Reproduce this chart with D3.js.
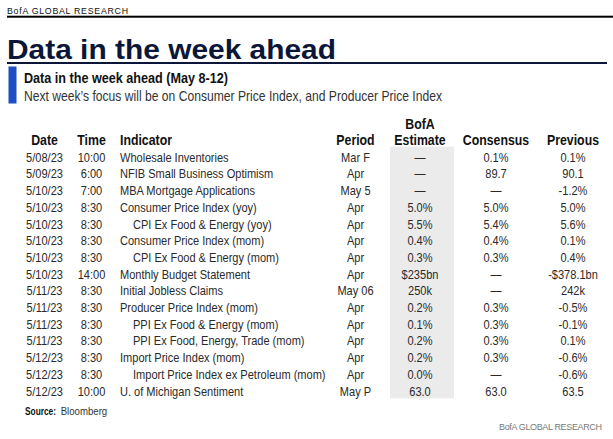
<!DOCTYPE html>
<html><head><meta charset="utf-8">
<script src="https://cdn.jsdelivr.net/npm/d3@7/dist/d3.min.js"></script>
<style>body{margin:0;background:#fff;}svg{display:block;}</style>
</head><body>
<svg id="c" width="613" height="439"></svg>
<script>
const dates = ["5/08/23","5/09/23","5/10/23","5/10/23","5/10/23","5/10/23","5/10/23","5/10/23","5/11/23","5/11/23","5/11/23","5/11/23","5/12/23","5/12/23","5/12/23"];
const times = ["10:00","6:00","7:00","8:30","8:30","8:30","8:30","14:00","8:30","8:30","8:30","8:30","8:30","8:30","10:00"];
const indicators = ["Wholesale Inventories","NFIB Small Business Optimism","MBA Mortgage Applications","Consumer Price Index (yoy)","CPI Ex Food & Energy (yoy)","Consumer Price Index (mom)","CPI Ex Food & Energy (mom)","Monthly Budget Statement","Initial  Jobless Claims","Producer Price Index (mom)","PPI Ex Food & Energy (mom)","PPI Ex Food, Energy, Trade (mom)","Import Price Index (mom)","Import Price Index ex Petroleum (mom)","U. of Michigan Sentiment"];
const subIndicator = [false,false,false,false,true,false,true,false,false,false,true,true,false,true,false];
const periods = ["Mar F","Apr","May 5","Apr","Apr","Apr","Apr","Apr","May 06","Apr","Apr","Apr","Apr","Apr","May P"];
const bofaEstimate = ["—","—","—","5.0%","5.5%","0.4%","0.3%","$235bn","250k","0.2%","0.1%","0.2%","0.2%","0.0%","63.0"];
const consensus = ["0.1%","89.7","—","5.0%","5.4%","0.4%","0.3%","—","—","0.3%","0.3%","0.3%","0.3%","—","63.0"];
const previous = ["0.1%","90.1","-1.2%","5.0%","5.6%","0.1%","0.4%","-$378.1bn","242k","-0.5%","-0.1%","0.1%","-0.6%","-0.6%","63.5"];
const columnKeys = ["date","time","indicator","period","bofa","consensus","previous"];
const columnHeaders = [["Date"],["Time"],["Indicator"],["Period"],["BofA","Estimate"],["Consensus"],["Previous"]];

const svg = d3.select("#c");
const FONT = "'Liberation Sans', Arial, sans-serif";
const SX = 0.85; // horizontal condensing of table text

// header area
svg.append("text").attr("x",7).attr("y",13.6).attr("font-family",FONT).attr("font-size",8.8)
  .attr("fill","#111").attr("textLength",121).attr("lengthAdjust","spacing").text("BofA GLOBAL RESEARCH");
svg.append("rect").attr("x",7).attr("y",15.7).attr("width",606).attr("height",2).attr("fill","#000");
svg.append("text").attr("x",7).attr("y",58.5).attr("font-family",FONT).attr("font-weight","bold").attr("font-size",27.5)
  .attr("fill","#0b1638").attr("textLength",329).attr("lengthAdjust","spacingAndGlyphs").text("Data in the week ahead");
svg.append("rect").attr("x",7).attr("y",62).attr("width",600).attr("height",2).attr("fill","#0b1638");
svg.append("rect").attr("x",8.5).attr("y",66.5).attr("width",8).attr("height",37).attr("fill","#1d4fc2");
svg.append("text").attr("x",24).attr("y",82.8).attr("font-family",FONT).attr("font-weight","bold").attr("font-size",14)
  .attr("fill","#111").attr("textLength",204).attr("lengthAdjust","spacingAndGlyphs").text("Data in the week ahead (May 8-12)");
svg.append("text").attr("x",24).attr("y",100.8).attr("font-family",FONT).attr("font-size",14.5)
  .attr("fill","#333").attr("textLength",418).attr("lengthAdjust","spacingAndGlyphs")
  .text("Next week\u2019s focus will be on Consumer Price Index, and Producer Price Index");

// scales
const rows = d3.range(indicators.length);
const y = d3.scalePoint().domain(rows).range([161.7, 395.6]);
const x = d3.scaleOrdinal().domain(columnKeys).range([44.5, 91.5, 120, 355.5, 420, 496, 573]);
const anchor = d3.scaleOrdinal().domain(columnKeys).range(["middle","middle","start","middle","middle","middle","middle"]);

// shaded BofA column
svg.append("rect").attr("x",390).attr("y",146.7).attr("width",64).attr("height",251.6).attr("fill","#ebebeb");

function cond(sel, cx, cy, sx){
  sel.attr("x",0).attr("y",0).attr("transform",`translate(${cx},${cy}) scale(${sx},1)`);
  return sel;
}

// headers
columnKeys.forEach((k,i)=>{
  const lines = columnHeaders[i];
  lines.forEach((t,j)=>{
    const yy = 145.3 - (lines.length-1-j)*16.4;
    const tx = svg.append("text").attr("font-family",FONT).attr("font-weight","bold").attr("font-size",14)
      .attr("fill","#111").attr("text-anchor",anchor(k)).text(t);
    cond(tx, x(k), yy, 0.88);
  });
});

// body
const cols = {date:dates,time:times,indicator:indicators,period:periods,bofa:bofaEstimate,consensus:consensus,previous:previous};
columnKeys.forEach(k=>{
  svg.append("g").selectAll("text").data(cols[k]).join("text")
    .attr("font-family",FONT).attr("font-size",13).attr("fill","#2a2a2a")
    .attr("text-anchor",anchor(k))
    .attr("transform",(d,i)=>{
      const xx = x(k) + (k==="indicator" && subIndicator[i] ? 13 : 0);
      return `translate(${xx},${y(i)}) scale(${SX},1)`;
    })
    .text(d=>d);
});

// footer
svg.append("text").attr("x",25).attr("y",414.5).attr("font-family",FONT).attr("font-weight","bold").attr("font-size",10.5)
  .attr("fill","#111").attr("textLength",31).attr("lengthAdjust","spacingAndGlyphs").text("Source:");
svg.append("text").attr("x",60.7).attr("y",414.5).attr("font-family",FONT).attr("font-size",10.5)
  .attr("fill","#333").attr("textLength",46.5).attr("lengthAdjust","spacingAndGlyphs").text("Bloomberg");
svg.append("text").attr("x",499).attr("y",430).attr("font-family",FONT).attr("font-size",9)
  .attr("fill","#7a7a7a").attr("textLength",103).attr("lengthAdjust","spacing").text("BofA GLOBAL RESEARCH");
</script>
</body></html>
